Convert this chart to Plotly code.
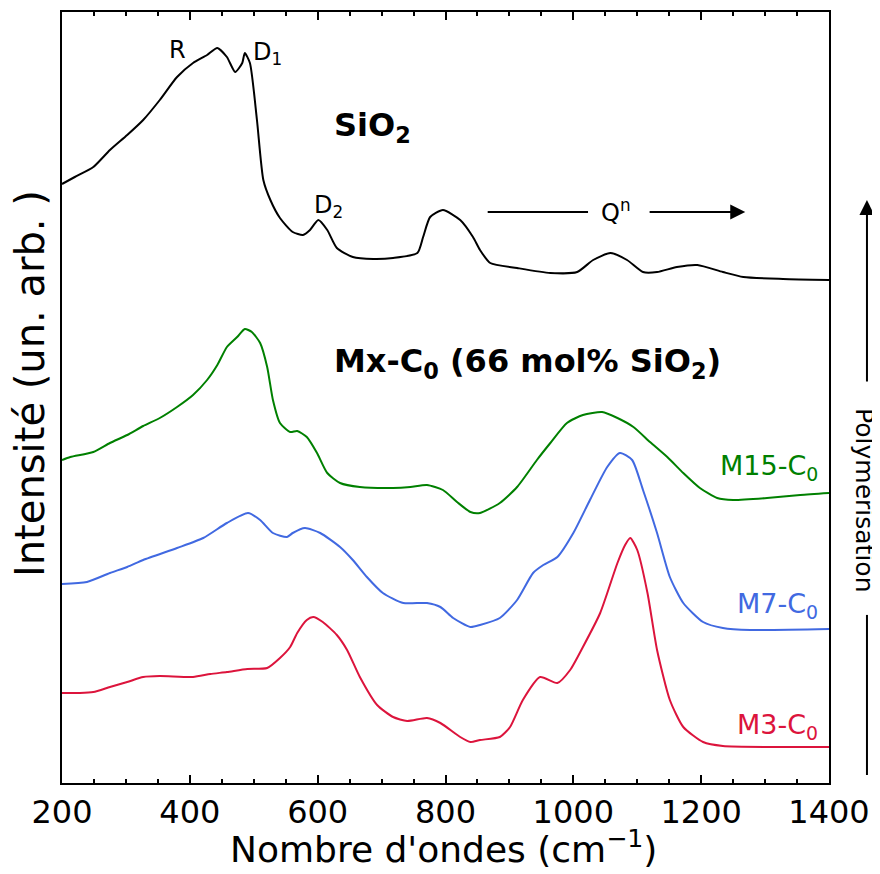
import plotly.graph_objects as go

# ---- data (intensity in arbitrary units, offset stacked) ----
sio2_wn = [200, 220, 249, 275, 302, 327, 353, 380, 405, 427, 443, 458, 471, 482, 486, 494, 505, 515,
           526, 541, 561, 577, 588, 601, 615, 630, 655, 687, 718, 756, 765, 776, 796, 823, 843, 854,
           870, 912, 964, 1006, 1031, 1058, 1084, 1109, 1131, 1162, 1194, 1234, 1266, 1328, 1400]
sio2_int = [599, 606, 616, 633, 648, 663, 683, 706, 720, 728, 735, 726, 711, 720, 730, 720, 663, 603,
            583, 565, 551, 548, 553, 563, 553, 535, 526, 524, 525, 530, 546, 566, 573, 563, 546, 533,
            520, 515, 510, 511, 523, 530, 523, 511, 511, 516, 518, 511, 506, 504, 503]

m15_wn = [200, 213, 249, 275, 302, 327, 353, 380, 405, 427, 443, 458, 474, 486, 497, 510, 521, 530,
          541, 557, 568, 583, 599, 615, 635, 666, 718, 745, 771, 796, 818, 839, 854, 885, 912, 943,
          964, 990, 1015, 1045, 1069, 1094, 1120, 1147, 1172, 1198, 1225, 1250, 1303, 1355, 1400]
m15_int = [323, 326, 331, 340, 348, 357, 365, 376, 388, 403, 418, 436, 446, 454, 451, 440, 416, 383,
           360, 351, 352, 346, 330, 310, 300, 296, 295, 296, 298, 293, 281, 271, 270, 280, 296, 323,
           340, 360, 368, 371, 365, 356, 341, 326, 310, 295, 285, 283, 285, 288, 290]

m7_wn = [200, 239, 275, 302, 327, 380, 421, 458, 491, 510, 530, 552, 561, 580, 604, 635, 655, 677,
         702, 734, 771, 792, 812, 839, 854, 885, 912, 937, 953, 975, 1000, 1026, 1053, 1073, 1092,
         1109, 1131, 1151, 1172, 1203, 1234, 1277, 1400]
m7_int = [199, 201, 210, 216, 223, 235, 245, 260, 270, 263, 250, 246, 250, 255, 250, 236, 223, 206,
          190, 180, 180, 176, 165, 156, 158, 165, 183, 210, 218, 226, 250, 283, 316, 330, 323,
          293, 250, 206, 180, 161, 155, 153, 154]

m3_wn = [200, 228, 249, 275, 302, 327, 353, 405, 432, 458, 490, 521, 541, 557, 568, 583, 593, 608,
         630, 646, 666, 693, 718, 740, 771, 792, 823, 839, 854, 885, 901, 921, 948, 975, 995, 1015,
         1042, 1069, 1081, 1089, 1100, 1116, 1131, 1151, 1172, 1203, 1234, 1328, 1400]
m3_int = [90, 90, 91, 96, 101, 106, 107, 106, 109, 111, 114, 115, 125, 136, 150, 163, 166, 161,
          148, 133, 106, 78, 66, 62, 65, 60, 46, 41, 43, 46, 56, 83, 106, 100, 113, 136,
          170, 220, 238, 245, 233, 190, 133, 83, 56, 41, 37, 36, 36]

series_names = ["SiO2", "M15-C0", "M7-C0", "M3-C0"]
series_colors = ["black", "green", "royalblue", "crimson"]
x_ticks = [200, 400, 600, 800, 1000, 1200, 1400]

FONT = "DejaVu Sans"

fig = go.Figure()
for name, xs, ys, col in zip(series_names,
                             [sio2_wn, m15_wn, m7_wn, m3_wn],
                             [sio2_int, m15_int, m7_int, m3_int],
                             series_colors):
    fig.add_trace(go.Scatter(x=xs, y=ys, mode="lines", name=name,
                             line=dict(color=col, width=2, shape="spline", smoothing=0.6),
                             showlegend=False, hoverinfo="skip"))

ann = []
def txt(x, y, t, size, color="black", xanchor="center", yanchor="middle", bold=False):
    if bold:
        t = "<b>" + t + "</b>"
    ann.append(dict(x=x, y=y, xref="x", yref="y", text=t, showarrow=False,
                    xanchor=xanchor, yanchor=yanchor,
                    font=dict(family=FONT, size=size, color=color)))

txt(380, 733, "R", 24)
txt(496, 730, "D<sub>1</sub>", 24, xanchor="left")
txt(591, 577, "D<sub>2</sub>", 24, xanchor="left")
txt(622, 656, "SiO<sub>2</sub>", 32, xanchor="left", bold=True)
txt(622, 420, "Mx-C<sub>0</sub> (66 mol% SiO<sub>2</sub>)", 32, xanchor="left", bold=True)
txt(1067, 572, "Q<sup>n</sup>", 24)
txt(1386, 316, "M15-C<sub>0</sub>", 27, color="green", xanchor="right")
txt(1386, 178, "M7-C<sub>0</sub>", 27, color="royalblue", xanchor="right")
txt(1386, 57, "M3-C<sub>0</sub>", 27, color="crimson", xanchor="right")

# Q^n arrow
ann.append(dict(x=1269, y=571, xref="x", yref="y", ax=1117, ay=571, axref="x", ayref="y",
                text="", showarrow=True, arrowhead=2, arrowsize=1.5, arrowwidth=2,
                arrowcolor="black"))
shapes = [dict(type="line", xref="x", yref="y", x0=866, x1=1023, y0=571, y1=571,
               line=dict(color="black", width=2))]

# Polymérisation arrow (right side, outside plot)
px = 1.0495
ann.append(dict(x=px, y=0.756, xref="paper", yref="paper", ax=0, ay=183,
                axref="pixel", ayref="pixel", text="", showarrow=True, arrowhead=2,
                arrowsize=1.5, arrowwidth=2, arrowcolor="black"))
shapes.append(dict(type="line", xref="paper", yref="paper", x0=px, x1=px, y0=0.218, y1=0.0104,
                   line=dict(color="black", width=2)))
ann.append(dict(x=1.0469, y=0.367, xref="paper", yref="paper", text="Polymérisation",
                showarrow=False, textangle=90, xanchor="center", yanchor="middle",
                font=dict(family=FONT, size=25, color="black")))

# axis titles
ann.append(dict(x=-0.0417, y=0.5175, xref="paper", yref="paper", text="Intensité (un. arb. )",
                showarrow=False, textangle=-90, xanchor="center", yanchor="middle",
                font=dict(family=FONT, size=40, color="black")))
ann.append(dict(x=0.497, y=-0.083, xref="paper", yref="paper",
                text="Nombre d'ondes (cm<sup>\u22121</sup>)",
                showarrow=False, xanchor="center", yanchor="middle",
                font=dict(family=FONT, size=36, color="black")))

# the page body adds an 8px margin: shrink the figure so the axes land where the reference has them
fig.update_layout(
    width=872, height=866,
    margin=dict(l=54, r=51, t=4, b=91, autoexpand=False),
    paper_bgcolor="white", plot_bgcolor="white",
    annotations=ann, shapes=shapes,
    xaxis=dict(range=[200, 1400], tickvals=x_ticks, ticktext=[str(v) for v in x_ticks],
               ticks="inside", ticklen=8, tickwidth=2, tickcolor="black",
               minor=dict(dtick=50, tick0=200, ticks="inside", ticklen=4, tickwidth=1.5,
                          tickcolor="black", showgrid=False),
               showline=True, linewidth=2, linecolor="black", mirror="ticks",
               showgrid=False, zeroline=False,
               tickfont=dict(family=FONT, size=32, color="black")),
    yaxis=dict(range=[0, 771], showticklabels=False, ticks="", showline=True,
               linewidth=2, linecolor="black", mirror=True, showgrid=False, zeroline=False),
)

fig.write_html("out.html")
